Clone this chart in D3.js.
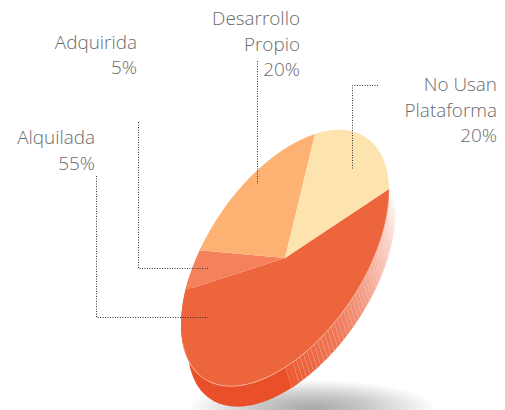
<!DOCTYPE html>
<html><head><meta charset="utf-8">
<script src="https://cdn.jsdelivr.net/npm/d3@7"></script>
<style>html,body{margin:0;padding:0;background:#fff;overflow:hidden}svg{display:block}text{font-family:"Open Sans",sans-serif;font-weight:300;font-size:18.9px;fill:#6a6a6a}</style>
</head><body><svg id="c" width="505" height="410"></svg>
<script>
const categories = ["Alquilada","Adquirida","Desarrollo Propio","No Usan Plataforma"];
const values = [55,5,20,20];
const colors = ["#EC653D","#F5815C","#FDB274","#FDE4AF"];
const labelLines = [["Alquilada","55%"],["Adquirida","5%"],["Desarrollo","Propio","20%"],["No Usan","Plataforma","20%"]];

const labelLayout = [{x:95,y:144},{x:137,y:48.7},{x:300,y:25},{x:497,y:91}];
const leaderLayout = [
  [[96.5,176],[96.5,317.5],[208,317.5]],
  [[138.5,122],[138.5,268.5],[209,268.5]],
  [[257.5,61],[257.5,184]],
  [[378,85.5],[352.5,85.5],[352.5,170]]
];
const R = 100, cx = 285, cy = 258;
const U = [104,-69], V = [-2.2,-108], depth = [6.5,20.5];

const svg = d3.select("#c");
const defs = svg.append("defs");
const grad = defs.append("radialGradient").attr("id","shadow");
grad.append("stop").attr("offset","0%").attr("stop-color","#a8a8a8");
grad.append("stop").attr("offset","45%").attr("stop-color","#c8c8c8");
grad.append("stop").attr("offset","100%").attr("stop-color","#fff");

svg.append("ellipse").attr("cx",312).attr("cy",408).attr("rx",124).attr("ry",28).attr("fill","url(#shadow)");

const rad = d => d*Math.PI/180;
const project = (deg,off) => {
  const t = rad(deg), c = Math.cos(t), s = Math.sin(t);
  return [cx + c*U[0] - s*V[0] + (off?depth[0]:0), cy + c*U[1] - s*V[1] + (off?depth[1]:0)];
};
const line = d3.line();

// solid part of the side wall
const solid = d3.range(88,205,1);
svg.append("path")
  .attr("d", line(solid.map(d=>project(d,false)).concat(solid.slice().reverse().map(d=>project(d,true)))) + "Z")
  .attr("fill","#E9502A");

// striped, fading part of the side wall
const fade = d3.scaleLinear().domain([90,60,30,-3]).range([1,0.8,0.4,0.03]);
d3.range(-3,90,2).forEach(a=>{
  const b = a+2;
  svg.append("path")
    .attr("d", line([project(a,false),project(b,false),project(b,true),project(a,true)])+"Z")
    .attr("fill","#EC5A33").attr("fill-opacity",fade(a));
  svg.append("path")
    .attr("d", line([project(b,false),project(b,true)]))
    .attr("stroke","#fff").attr("stroke-width",0.5).attr("stroke-opacity",0.4).attr("fill","none");
});

// top face: d3.pie + d3.arc in an affine transform
const pieData = d3.pie().sort(null).startAngle(0).endAngle(2*Math.PI)(values);
const arc = d3.arc().innerRadius(0).outerRadius(R);
const face = svg.append("g").attr("transform",
  `matrix(${-V[0]/R},${-V[1]/R},${-U[0]/R},${-U[1]/R},${cx},${cy})`);
face.selectAll("path").data(pieData).join("path")
  .attr("d",arc).attr("fill",(d,i)=>colors[i]);

// pale rim on the lower edge of the top face
const rim = d3.range(8,172,1).map(d=>project(d,false));
svg.append("path").attr("d",line(rim)).attr("fill","none")
  .attr("stroke","#F8B8A0").attr("stroke-width",0.8);

// leaders
leaderLayout.forEach(p=>{
  svg.append("path").attr("d",line(p)).attr("fill","none")
    .attr("stroke","#333").attr("stroke-width",1).attr("stroke-dasharray","1 1.5");
});

// labels
labelLines.forEach((lines,i)=>{
  lines.forEach((t,j)=>{
    svg.append("text").attr("x",labelLayout[i].x).attr("y",labelLayout[i].y+j*25.5)
      .attr("text-anchor","end").text(t);
  });
});
</script></body></html>
